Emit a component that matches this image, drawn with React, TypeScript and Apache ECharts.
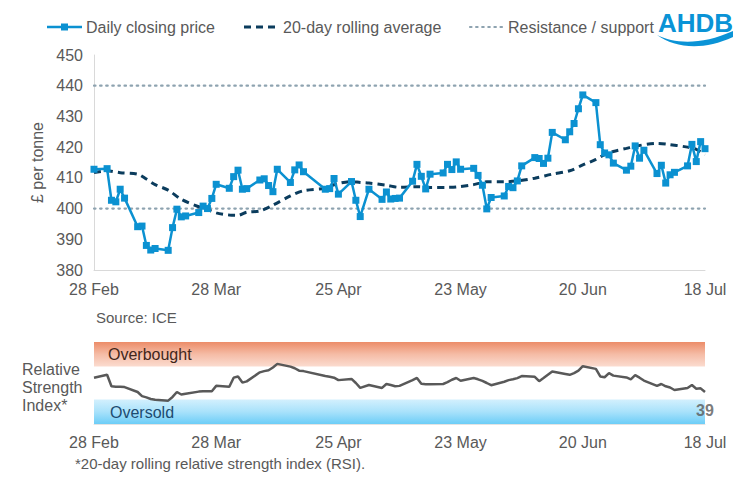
import React, { useEffect, useRef } from "react";
import * as echarts from "echarts";

const YEAR = 2025;
const START = "02-28";
const tickLabels = ["28 Feb", "28 Mar", "25 Apr", "23 May", "20 Jun", "18 Jul"];

const priceDates = [
  "02-28", "03-03", "03-04", "03-05", "03-06", "03-07",
  "03-10", "03-11", "03-12", "03-13", "03-14",
  "03-17", "03-18", "03-19", "03-20", "03-21",
  "03-24", "03-25", "03-26", "03-27", "03-28",
  "03-31", "04-01", "04-02", "04-03", "04-04",
  "04-07", "04-08", "04-09", "04-10", "04-11",
  "04-14", "04-15", "04-16", "04-17",
  "04-22", "04-23", "04-24", "04-25",
  "04-28", "04-29", "04-30", "05-02",
  "05-05", "05-06", "05-07", "05-08", "05-09",
  "05-12", "05-13", "05-14", "05-15", "05-16",
  "05-19", "05-20", "05-21", "05-22", "05-23",
  "05-26", "05-27", "05-28", "05-29", "05-30",
  "06-02", "06-03", "06-04", "06-05", "06-06",
  "06-09", "06-10", "06-11", "06-12", "06-13",
  "06-16", "06-17", "06-18", "06-19", "06-20",
  "06-23", "06-24", "06-25", "06-26", "06-27",
  "06-30", "07-01", "07-02", "07-03", "07-04",
  "07-07", "07-08", "07-09", "07-10", "07-11",
  "07-14", "07-15", "07-16", "07-17", "07-18",
];

const priceValues = [
  412.8, 413.0, 402.7, 402.2, 406.3, 403.4,
  394.1, 394.3, 388.0, 386.5, 387.0,
  386.4, 393.8, 399.8, 397.3, 397.6,
  398.7, 400.8, 400.0, 403.3, 407.9,
  406.6, 410.4, 412.5, 406.3, 406.5,
  409.3, 409.7, 407.5, 405.5, 412.8,
  408.5, 412.6, 414.2, 412.0,
  406.3, 406.5, 409.8, 404.7,
  408.8, 402.7, 397.4, 406.3,
  403.0, 405.4, 403.1, 403.3, 403.4,
  408.9, 414.4, 410.5, 406.4, 411.2,
  411.6, 414.4, 412.7, 415.2, 412.8,
  413.1, 410.8, 407.6, 399.9, 403.6,
  404.1, 407.2, 406.8, 409.0, 413.9,
  416.6, 416.3, 414.7, 416.4, 424.8,
  422.4, 425.0, 427.7, 432.5, 437.0,
  434.5, 420.8, 418.1, 417.5, 414.8,
  412.5, 413.8, 420.4, 416.4, 419.0,
  411.4, 414.1, 408.3, 411.0, 411.8,
  413.9, 420.9, 415.3, 421.8, 419.5,
];

const maDates = [
  "02-28", "03-03", "03-06", "03-10", "03-12", "03-14", "03-17", "03-20",
  "03-24", "03-26", "03-28", "03-31", "04-02", "04-04", "04-07", "04-10",
  "04-14", "04-17", "04-22", "04-23", "04-25", "04-28", "04-30", "05-02",
  "05-06", "05-09", "05-13", "05-16", "05-20", "05-22", "05-26", "05-29",
  "06-02", "06-05", "06-09", "06-13", "06-17", "06-20", "06-23", "06-25",
  "06-27", "06-30", "07-02", "07-07", "07-09", "07-14", "07-16", "07-18",
];
const maValues = [
  411.7, 412.3, 411.7, 411.2, 409.6, 407.8, 406.0, 403.0,
  400.6, 399.7, 398.6, 397.9, 397.8, 398.8, 399.2, 401.1,
  404.1, 405.8, 406.6, 407.2, 408.2, 408.8, 408.5, 408.3,
  407.6, 406.9, 407.1, 406.9, 406.9, 407.0, 407.8, 408.7,
  408.7, 409.0, 409.9, 411.2, 412.3, 414.2, 416.0, 417.6,
  418.6, 419.6, 420.3, 421.2, 421.0, 420.0, 419.3, 417.5,
];

// RSI on the same dates as priceDates
const rsiValues = [
  56.5, 60.1, 46.0, 45.5, 45.5, 45.0,
  39.0, 34.0, 32.5, 30.5, 29.5,
  28.5, 33.0, 39.0, 36.0, 37.0,
  39.5, 40.0, 39.8, 40.0, 46.5,
  45.5, 56.5, 58.0, 50.5, 52.0,
  63.0, 64.5, 65.5, 69.0, 73.3,
  70.0, 68.0, 65.0, 64.5,
  58.5, 57.5, 56.5, 53.5,
  55.0, 50.0, 44.0, 47.5,
  44.0, 48.8, 47.5, 46.0, 46.5,
  53.5, 56.1, 49.0, 48.5, 48.6,
  48.8, 51.0, 54.0, 56.1, 52.8,
  56.1, 54.5, 52.5, 50.0, 47.3,
  51.5, 53.5, 54.5, 56.0, 58.5,
  57.5, 52.2, 56.0, 60.0, 64.0,
  61.0, 60.0, 62.0, 65.0, 70.5,
  67.2, 58.0, 57.0, 62.0, 59.0,
  56.8, 54.5, 59.5, 56.5, 53.0,
  46.5, 48.8, 46.0, 44.5, 41.5,
  44.0, 47.5, 43.0, 43.5, 39.0,
];

const resistanceLevels = [440, 400];
const overboughtBand = [70, 100];
const oversoldBand = [0, 30];

const FONT = "'Liberation Sans', Arial, sans-serif";
const GREY = "#595959";
const PRICE_COLOR = "#0b91d1";
const MA_COLOR = "#0b3c5d";
const RES_COLOR = "#8ea3b0";
const LOGO_COLOR = "#0a93d6";

function dayIndex(md: string): number {
  const [m, d] = md.split("-").map(Number);
  const [sm, sd] = START.split("-").map(Number);
  return (Date.UTC(YEAR, m - 1, d) - Date.UTC(YEAR, sm - 1, sd)) / 86400000;
}

const TOTAL_DAYS = dayIndex("07-18");

echarts.graphic.registerShape(
  "ahdbWave",
  echarts.graphic.extendPath("M0,4 C18,13 45,14 76,0 L76,6 C46,20 18,17 0,4 Z", {}) as any
);

export default function App() {
  const ref = useRef<HTMLDivElement>(null);
  useEffect(() => {
    if (!ref.current) return;
    const chart = echarts.init(ref.current, undefined, { renderer: "svg" });

    const priceData = priceDates.map((d, i) => [dayIndex(d), priceValues[i]]);
    const maData = maDates.map((d, i) => [dayIndex(d), maValues[i]]);
    const rsiData = priceDates.map((d, i) => [dayIndex(d), rsiValues[i]]);
    const lastRsi = rsiData[rsiData.length - 1];

    const xLabelFmt = (v: number) => tickLabels[Math.round(v / 28)] ?? "";
    const LY = 27;

    const option: any = {
      animation: false,
      textStyle: { fontFamily: FONT },
      grid: [
        { left: 94, top: 55, width: 611, height: 215 },
        { left: 94, top: 342, width: 611, height: 82 },
      ],
      xAxis: [
        {
          gridIndex: 0,
          type: "value",
          min: 0,
          max: TOTAL_DAYS,
          interval: 28,
          axisLine: { show: true, lineStyle: { color: "#d9d9d9", width: 1 } },
          axisTick: { show: false },
          splitLine: { show: false },
          axisLabel: { color: GREY, fontSize: 16, margin: 11, formatter: xLabelFmt, fontFamily: FONT },
        },
        {
          gridIndex: 1,
          type: "value",
          min: 0,
          max: TOTAL_DAYS,
          interval: 28,
          axisLine: { show: true, lineStyle: { color: "#e3e3e3", width: 1 } },
          axisTick: { show: false },
          splitLine: { show: false },
          axisLabel: { color: GREY, fontSize: 16, margin: 10, formatter: xLabelFmt, fontFamily: FONT },
        },
      ],
      yAxis: [
        {
          gridIndex: 0,
          type: "value",
          min: 380,
          max: 450,
          interval: 10,
          name: "£ per tonne",
          nameLocation: "middle",
          nameRotate: 90,
          nameGap: 47,
          nameTextStyle: { color: GREY, fontSize: 16, fontFamily: FONT },
          axisLine: { show: true, lineStyle: { color: "#d9d9d9", width: 1 } },
          axisTick: { show: false },
          splitLine: { show: false },
          axisLabel: { color: GREY, fontSize: 16, margin: 11, fontFamily: FONT },
        },
        {
          gridIndex: 1,
          type: "value",
          min: 0,
          max: 100,
          show: false,
          splitLine: { show: false },
        },
      ],
      series: [
        ...resistanceLevels.map((lv) => ({
          name: "Resistance / support",
          type: "line",
          xAxisIndex: 0,
          yAxisIndex: 0,
          symbol: "none",
          silent: true,
          data: [
            [0, lv],
            [TOTAL_DAYS, lv],
          ],
          lineStyle: { color: RES_COLOR, width: 2.2, type: [1.5, 4.6], cap: "round" },
          z: 1,
        })),
        {
          name: "20-day rolling average",
          type: "line",
          xAxisIndex: 0,
          yAxisIndex: 0,
          symbol: "none",
          smooth: 0.3,
          data: maData,
          lineStyle: { color: MA_COLOR, width: 3, type: [7, 5] },
          z: 2,
        },
        {
          name: "Daily closing price",
          type: "line",
          xAxisIndex: 0,
          yAxisIndex: 0,
          symbol: "rect",
          symbolSize: 7,
          data: priceData,
          lineStyle: { color: PRICE_COLOR, width: 2.5 },
          itemStyle: { color: PRICE_COLOR },
          z: 3,
        },
        {
          name: "RSI",
          type: "line",
          xAxisIndex: 1,
          yAxisIndex: 1,
          symbol: "none",
          data: rsiData,
          lineStyle: { color: GREY, width: 2.5 },
          markArea: {
            silent: true,
            data: [
              [
                {
                  yAxis: overboughtBand[1],
                  xAxis: 0,
                  itemStyle: {
                    color: new echarts.graphic.LinearGradient(0, 0, 0, 1, [
                      { offset: 0, color: "#ec8c68" },
                      { offset: 0.5, color: "#f5bca6" },
                      { offset: 1, color: "#fbdcd0" },
                    ]),
                  },
                },
                { yAxis: overboughtBand[0], xAxis: TOTAL_DAYS },
              ],
              [
                {
                  yAxis: oversoldBand[1],
                  xAxis: 0,
                  itemStyle: {
                    color: new echarts.graphic.LinearGradient(0, 0, 0, 1, [
                      { offset: 0, color: "#d3f0fd" },
                      { offset: 0.5, color: "#a9e2fb" },
                      { offset: 1, color: "#6ccdf7" },
                    ]),
                  },
                },
                { yAxis: oversoldBand[0], xAxis: TOTAL_DAYS },
              ],
            ],
          },
          z: 3,
        },
        {
          name: "RSI last",
          type: "scatter",
          xAxisIndex: 1,
          yAxisIndex: 1,
          symbolSize: 0,
          silent: true,
          z: 20,
          data: [lastRsi],
          label: {
            show: true,
            position: "bottom",
            distance: 10,
            formatter: (p: any) => String(Math.round(p.value[1])),
            color: GREY,
            fontWeight: "bold",
            fontSize: 16,
            fontFamily: FONT,
          },
        },
      ],
      graphic: [
        // legend
        {
          type: "line",
          shape: { x1: 47, y1: LY, x2: 82, y2: LY },
          style: { stroke: PRICE_COLOR, lineWidth: 2.5 },
        },
        {
          type: "rect",
          shape: { x: 61, y: LY - 3.5, width: 7, height: 7 },
          style: { fill: PRICE_COLOR },
        },
        {
          type: "text",
          x: 86,
          y: LY,
          style: {
            text: "Daily closing price",
            fill: GREY,
            fontSize: 16,
            fontFamily: FONT,
            verticalAlign: "middle",
          },
        },
        {
          type: "line",
          shape: { x1: 244, y1: LY, x2: 276, y2: LY },
          style: { stroke: MA_COLOR, lineWidth: 3, lineDash: [7, 5] },
        },
        {
          type: "text",
          x: 283,
          y: LY,
          style: {
            text: "20-day rolling average",
            fill: GREY,
            fontSize: 16,
            fontFamily: FONT,
            verticalAlign: "middle",
          },
        },
        {
          type: "line",
          shape: { x1: 470, y1: LY, x2: 502, y2: LY },
          style: { stroke: RES_COLOR, lineWidth: 2.2, lineDash: [1.5, 4.6], lineCap: "round" },
        },
        {
          type: "text",
          x: 508,
          y: LY,
          style: {
            text: "Resistance / support",
            fill: GREY,
            fontSize: 16,
            fontFamily: FONT,
            verticalAlign: "middle",
          },
        },
        // logo
        {
          type: "text",
          x: 658,
          y: 10,
          style: {
            text: "AHDB",
            fill: LOGO_COLOR,
            fontSize: 26,
            fontWeight: "bold",
            fontFamily: FONT,
          },
        },
        {
          type: "ahdbWave",
          x: 657,
          y: 31,
          style: { fill: LOGO_COLOR },
        },
        // texts
        {
          type: "text",
          x: 96,
          y: 317,
          style: { text: "Source: ICE", fill: GREY, fontSize: 15, fontFamily: FONT, verticalAlign: "middle" },
        },
        {
          type: "text",
          x: 22,
          y: 360,
          style: {
            text: "Relative\nStrength\nIndex*",
            fill: GREY,
            fontSize: 16,
            lineHeight: 18.3,
            fontFamily: FONT,
          },
        },
        {
          type: "text",
          x: 108,
          y: 354,
          z: 10,
          style: { text: "Overbought", fill: "#42261b", fontSize: 16, fontFamily: FONT, verticalAlign: "middle" },
        },
        {
          type: "text",
          x: 110,
          y: 412.5,
          z: 10,
          style: { text: "Oversold", fill: "#1d4b70", fontSize: 16, fontFamily: FONT, verticalAlign: "middle" },
        },
        {
          type: "text",
          x: 75,
          y: 463,
          style: {
            text: "*20-day rolling relative strength index (RSI).",
            fill: GREY,
            fontSize: 15,
            fontFamily: FONT,
            verticalAlign: "middle",
          },
        },
      ],
    };

    chart.setOption(option);
    return () => chart.dispose();
  }, []);

  return (
    <div
      ref={ref}
      style={{ position: "fixed", left: 0, top: 0, width: 736, height: 487, background: "#fff" }}
    />
  );
}
